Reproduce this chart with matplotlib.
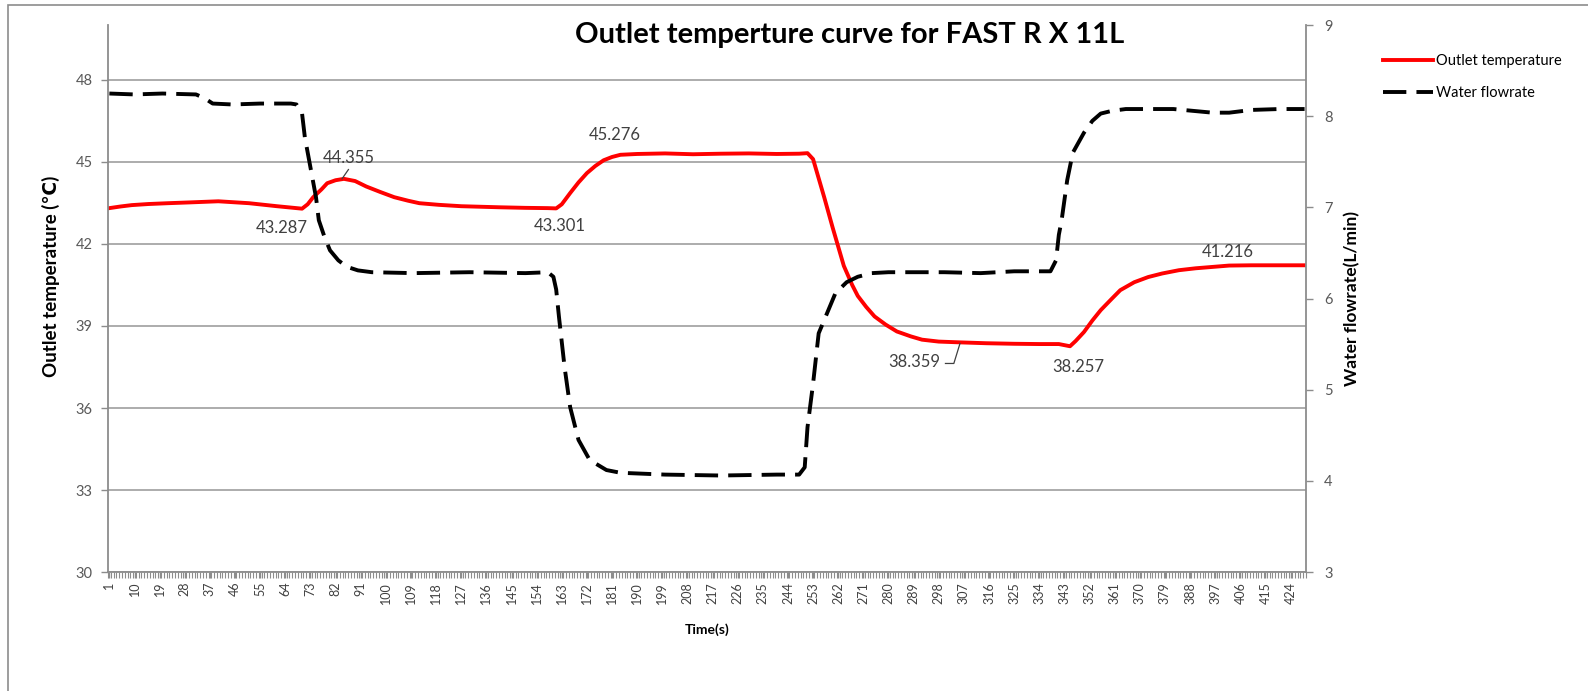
import matplotlib.pyplot as plt
from matplotlib.patches import Rectangle

plt.rcParams['font.family'] = ['Lato', 'DejaVu Sans']

# 出口温度 (時間, ℃) - 図から読み取った値
temp_time = [1, 5, 9, 15, 22, 30, 40, 51, 61, 66, 70, 72, 74, 77, 79, 82, 85, 89, 93, 98,
             103, 108, 112, 119, 127, 134, 141, 150, 158, 161, 163, 166, 169, 172, 175, 178,
             181, 184, 190, 200, 210, 220, 230, 240, 248, 251, 253, 255, 257, 260, 262, 264,
             267, 269, 272, 275, 279, 283, 288, 292, 298, 306, 315, 325, 334, 341, 343, 345,
             347, 350, 353, 356, 360, 363, 368, 373, 378, 384, 390, 396, 402, 410, 420, 429]
temp_val = [43.31, 43.37, 43.42, 43.46, 43.49, 43.52, 43.56, 43.49, 43.38, 43.33, 43.29, 43.45,
            43.71, 44.00, 44.22, 44.33, 44.38, 44.30, 44.10, 43.90, 43.71, 43.58, 43.49, 43.43,
            43.38, 43.36, 43.34, 43.32, 43.31, 43.30, 43.45, 43.86, 44.25, 44.59, 44.85, 45.06,
            45.18, 45.26, 45.29, 45.31, 45.28, 45.30, 45.31, 45.29, 45.30, 45.32, 45.10, 44.40,
            43.70, 42.60, 41.90, 41.20, 40.50, 40.10, 39.70, 39.35, 39.05, 38.80, 38.62, 38.50,
            38.43, 38.40, 38.37, 38.35, 38.34, 38.34, 38.30, 38.26, 38.45, 38.78, 39.20, 39.58,
            40.00, 40.31, 40.60, 40.79, 40.92, 41.04, 41.11, 41.16, 41.21, 41.22, 41.22, 41.22]

# 流量 (時間, L/min)
flow_time = [1, 10, 20, 32, 35, 38, 45, 55, 66, 68, 70, 71, 73, 75, 76, 78, 80, 83, 86, 90,
             95, 110, 130, 150, 158, 160, 161, 162, 164, 166, 169, 173, 179, 184, 200, 220,
             240, 248, 250, 251, 253, 255, 258, 261, 265, 269, 274, 280, 300, 313, 325, 338,
             340, 341, 342, 344, 346, 350, 353, 356, 360, 365, 375, 382, 389, 396, 402, 410,
             420, 429]
flow_val = [8.25, 8.24, 8.25, 8.24, 8.20, 8.14, 8.13, 8.14, 8.14, 8.13, 8.03, 7.77, 7.44, 7.11,
            6.86, 6.68, 6.53, 6.42, 6.35, 6.31, 6.29, 6.28, 6.29, 6.28, 6.29, 6.24, 6.10, 5.80,
            5.25, 4.81, 4.45, 4.23, 4.12, 4.09, 4.07, 4.06, 4.07, 4.07, 4.15, 4.59, 5.07, 5.62,
            5.84, 6.06, 6.18, 6.24, 6.28, 6.29, 6.29, 6.28, 6.30, 6.30, 6.42, 6.70, 6.86, 7.30,
            7.60, 7.82, 7.95, 8.03, 8.06, 8.08, 8.08, 8.08, 8.06, 8.04, 8.04, 8.07, 8.08, 8.08]

# X軸ラベル
x_ticks = list(range(1, 430, 9))

# データラベル (テキスト, x, y)
label_text = ['43.287', '44.355', '43.301', '45.276', '38.359', '38.257', '41.216']
label_x = [62.7, 86.8, 162.3, 182.0, 289.4, 347.9, 401.6]
label_y = [42.60, 45.15, 42.65, 45.98, 37.69, 37.51, 41.69]

fig = plt.figure(figsize=(15.88, 6.91), dpi=100)
ax = fig.add_axes([0.068, 0.172, 0.7544, 0.7916])
ax2 = ax.twinx()

# 外枠
fig.patches.append(Rectangle((8 / 1588, -0.1), 1.2, 1.1 - 5 / 691, transform=fig.transFigure,
                             fill=False, edgecolor='#8c8c8c', lw=1.2))

l1, = ax.plot(temp_time, temp_val, color='#ff0000', lw=2.8, solid_joinstyle='round',
              label='Outlet temperature')
l2, = ax2.plot(flow_time, flow_val, color='black', lw=2.8, linestyle=(0, (6, 2.6)),
               label='Water flowrate')

ax.set_xlim(0.5, 429.5)
ax.set_ylim(30, 50)
ax.set_yticks([30, 33, 36, 39, 42, 45, 48])
ax2.set_ylim(3, 9)
ax2.set_yticks([3, 4, 5, 6, 7, 8, 9])

ax.grid(axis='y', color='#a6a6a6', lw=1.3)
ax.set_axisbelow(True)

ax.set_xticks(x_ticks)
ax.set_xticklabels([str(v) for v in x_ticks], rotation=90)
ax.set_xticks([i + 0.5 for i in range(0, 430)], minor=True)

grey = '#8c8c8c'
for a in (ax, ax2):
    for s in a.spines.values():
        s.set_visible(False)
ax.spines['left'].set_visible(True)
ax.spines['bottom'].set_visible(True)
ax2.spines['right'].set_visible(True)
for s in (ax.spines['left'], ax.spines['bottom'], ax2.spines['right']):
    s.set_color(grey)
    s.set_linewidth(1.3)

ax.tick_params(axis='y', colors=grey, labelcolor='#595959', labelsize=10.5, length=5, width=1,
               pad=6)
ax.tick_params(axis='x', which='major', colors=grey, labelcolor='#404040', labelsize=9,
               length=4, width=1, pad=3)
ax.tick_params(axis='x', which='minor', colors=grey, length=4, width=0.8)
ax2.tick_params(axis='y', colors=grey, labelcolor='#595959', labelsize=10.5, length=5, width=1,
                pad=8)

ax.set_ylabel('Outlet temperature (℃)', fontsize=13.5, fontweight='bold')
ax.yaxis.set_label_coords(-0.04, 0.54)
ax2.set_ylabel('Water flowrate(L/min)', fontsize=12.5, fontweight='bold', labelpad=8)
ax.set_xlabel('Time(s)', fontsize=10, fontweight='bold', labelpad=14)

fig.text(0.535, 0.949, 'Outlet temperture curve for FAST R X 11L', ha='center', va='center',
         fontsize=21, fontweight='bold')

for t, x, y in zip(label_text, label_x, label_y):
    ax.text(x, y, t, ha='center', va='center', fontsize=12, color='#404040')

# 引き出し線
ax.plot([84.3, 86.6], [44.38, 44.72], color='#404040', lw=0.9)
ax.plot([300.4, 303.4, 305.6], [37.63, 37.63, 38.36], color='#404040', lw=0.9)

fig.legend(handles=[l1, l2], loc='upper left', bbox_to_anchor=(0.871, 0.922),
           frameon=False, fontsize=10.5, handlelength=3.4, handletextpad=0.2,
           labelspacing=1.25, borderpad=0, borderaxespad=0)

fig.savefig('out.png', dpi=100)
